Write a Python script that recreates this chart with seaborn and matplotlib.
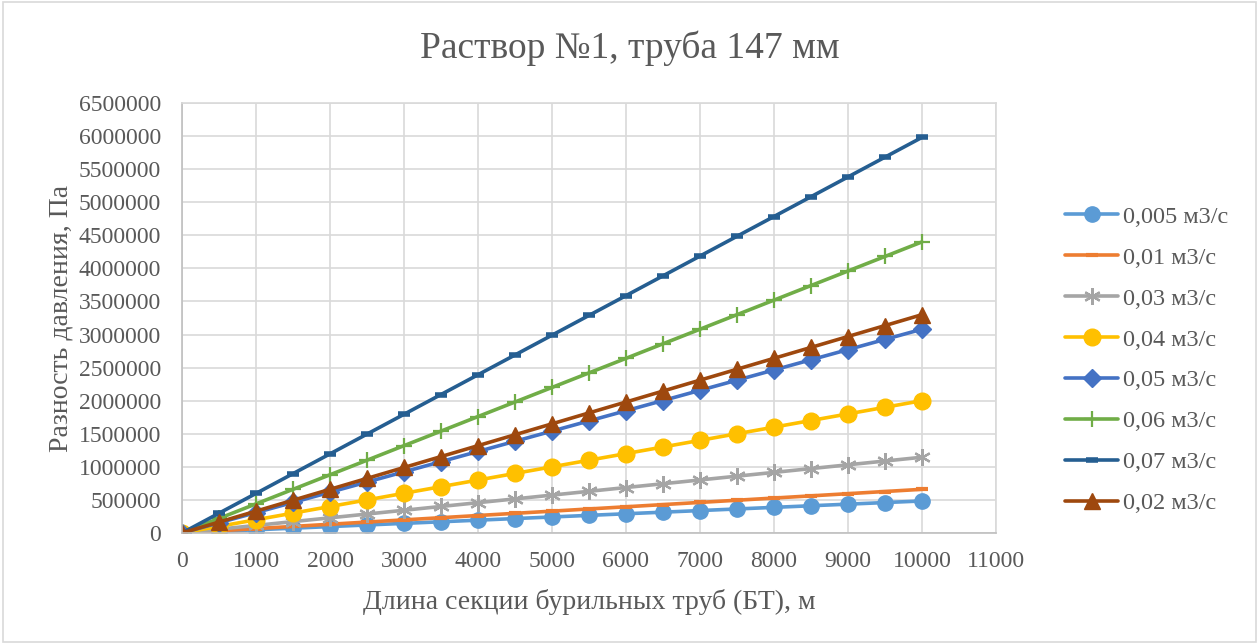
import matplotlib
matplotlib.use("Agg")
import matplotlib.pyplot as plt
import seaborn as sns
import pandas as pd
from matplotlib.patches import Rectangle

# ── Data ──────────────────────────────────────────────────────
length_m = [0, 500, 1000, 1500, 2000, 2500, 3000, 3500, 4000, 4500, 5000,
            5500, 6000, 6500, 7000, 7500, 8000, 8500, 9000, 9500, 10000]

dp_0005 = [0, 24200, 48400, 72600, 96800, 121000, 145200, 169400, 193600, 217800,
           242000, 266200, 290400, 314600, 338800, 363000, 387200, 411400, 435600,
           459800, 484000]
dp_001 = [0, 33000, 66000, 99000, 132000, 165000, 198000, 231000, 264000, 297000,
          330000, 363000, 396000, 429000, 462000, 495000, 528000, 561000, 594000,
          627000, 660000]
dp_003 = [0, 57250, 114500, 171750, 229000, 286250, 343500, 400750, 458000, 515250,
          572500, 629750, 687000, 744250, 801500, 858750, 916000, 973250, 1030500,
          1087750, 1145000]
dp_004 = [0, 100000, 200000, 300000, 400000, 500000, 600000, 700000, 800000, 900000,
          1000000, 1100000, 1200000, 1300000, 1400000, 1500000, 1600000, 1700000,
          1800000, 1900000, 2000000]
dp_005 = [0, 154000, 308000, 462000, 616000, 770000, 924000, 1078000, 1232000,
          1386000, 1540000, 1694000, 1848000, 2002000, 2156000, 2310000, 2464000,
          2618000, 2772000, 2926000, 3080000]
dp_006 = [0, 220000, 440000, 660000, 880000, 1100000, 1320000, 1540000, 1760000,
          1980000, 2200000, 2420000, 2640000, 2860000, 3080000, 3300000, 3520000,
          3740000, 3960000, 4180000, 4400000]
dp_007 = [0, 299000, 598000, 897000, 1196000, 1495000, 1794000, 2093000, 2392000,
          2691000, 2990000, 3289000, 3588000, 3887000, 4186000, 4485000, 4784000,
          5083000, 5382000, 5681000, 5980000]
dp_002 = [0, 165000, 330000, 495000, 660000, 825000, 990000, 1155000, 1320000,
          1485000, 1650000, 1815000, 1980000, 2145000, 2310000, 2475000, 2640000,
          2805000, 2970000, 3135000, 3300000]

series_labels = ["0,005 м3/с", "0,01 м3/с", "0,03 м3/с", "0,04 м3/с",
                 "0,05 м3/с", "0,06 м3/с", "0,07 м3/с", "0,02 м3/с"]
series_values = [dp_0005, dp_001, dp_003, dp_004, dp_005, dp_006, dp_007, dp_002]

# ── Styles (Excel office palette) ────────────────────────────
colors  = ["#5B9BD5", "#ED7D31", "#A5A5A5", "#FFC000",
           "#4472C4", "#70AD47", "#255E91", "#9E480E"]
markers = ["o", "_", (6, 2, 0), "o", "D", "+", "_", "^"]
msizes  = [11, 9, 12, 12, 9, 12, 8, 11]
medges  = [1, 3, 1.6, 1, 1, 1.6, 4, 1]

frames = []
for lab, vals in zip(series_labels, series_values):
    frames.append(pd.DataFrame({"L": length_m, "dP": vals, "series": lab}))
df = pd.concat(frames, ignore_index=True)

sns.set_theme(style="white")
plt.rcParams["font.family"] = ["Liberation Serif", "DejaVu Serif"]
TXT = "#595959"
GRID = "#D9D9D9"

fig = plt.figure(figsize=(12.59, 6.44), dpi=100)
ax = fig.add_axes([0.1446, 0.1724, 0.791 - 0.1446, 0.840 - 0.1724])

for i, lab in enumerate(series_labels):
    sns.lineplot(
        data=df[df["series"] == lab], x="L", y="dP", ax=ax,
        color=colors[i], marker=markers[i], markersize=msizes[i],
        markeredgewidth=medges[i], markeredgecolor=colors[i],
        markerfacecolor=colors[i], linewidth=2.6, label=lab,
    )

ax.set_xlim(0, 11000)
ax.set_ylim(0, 6500000)
ax.set_xticks(range(0, 11001, 1000))
ax.set_yticks(range(0, 6500001, 500000))
ax.ticklabel_format(style="plain", useOffset=False)
ax.grid(True, color=GRID, linewidth=1.2)
ax.set_axisbelow(True)
for side, sp in ax.spines.items():
    sp.set_color(GRID)
    sp.set_linewidth(1.2)
ax.spines["left"].set_color("#BFBFBF")
ax.spines["bottom"].set_color("#BFBFBF")
ax.tick_params(axis="both", length=0, labelsize=17, labelcolor=TXT)
ax.tick_params(axis="y", pad=15)
ax.tick_params(axis="x", pad=13)

ax.set_xlabel("Длина секции бурильных труб (БТ), м", fontsize=20,
              color=TXT, labelpad=12)
ax.set_ylabel("Разность давления, Па", fontsize=20, color=TXT, labelpad=4)
fig.text(0.5, 0.925, "Раствор №1, труба 147 мм", ha="center", va="center",
         fontsize=27, color=TXT)

ax.get_legend().remove()
handles, labels = ax.get_legend_handles_labels()
fig.legend(handles, labels, loc="center left", bbox_to_anchor=(0.8285, 0.441),
           frameon=False, fontsize=17.5, labelcolor=TXT, handlelength=2.2,
           handletextpad=0.2, labelspacing=0.78)

# chart border
fig.patches.append(Rectangle((0.002, 0.003), 0.996, 0.994, transform=fig.transFigure,
                             fill=False, edgecolor="#D9D9D9", linewidth=1.2))

fig.savefig("out.png", dpi=100)
